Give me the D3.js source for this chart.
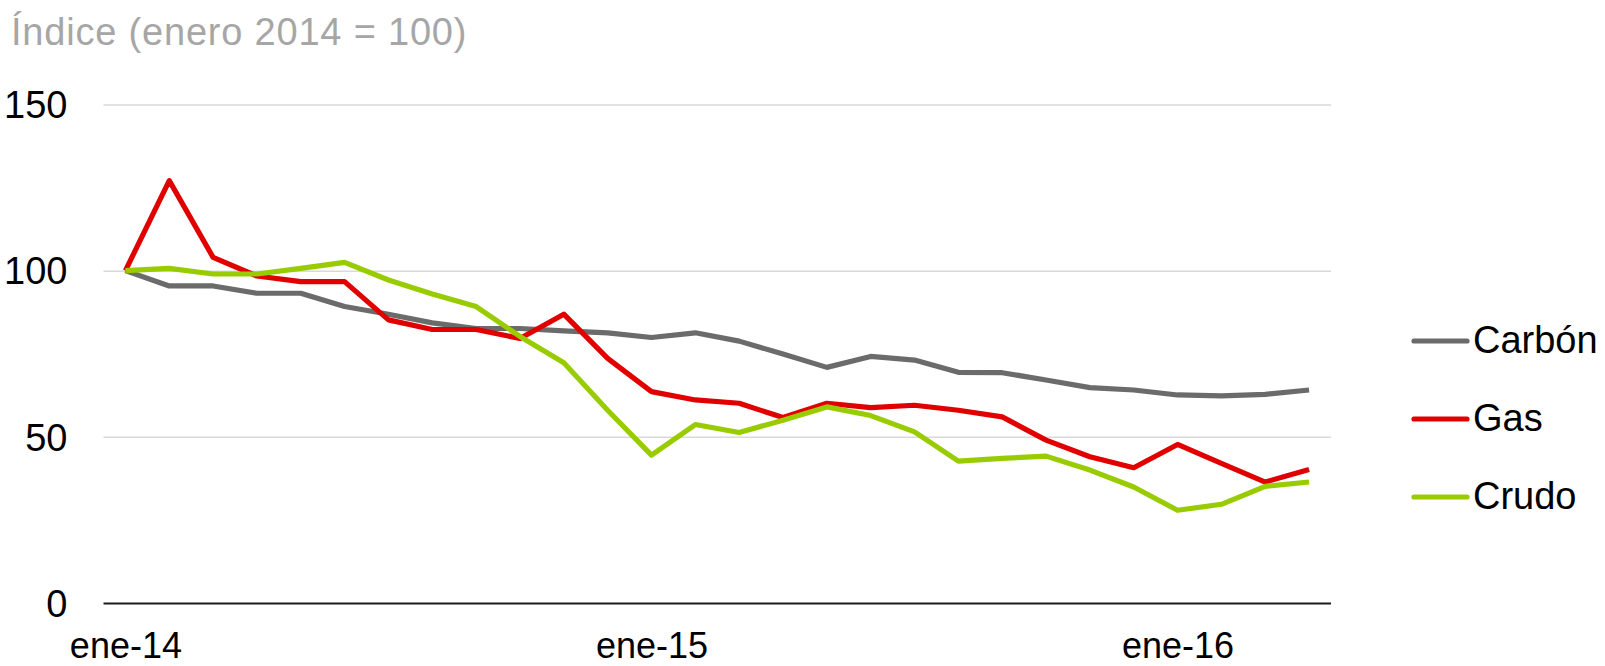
<!DOCTYPE html>
<html>
<head>
<meta charset="utf-8">
<script src="https://cdn.jsdelivr.net/npm/d3@7"></script>
<style>
  html, body { margin: 0; padding: 0; background: #fff; }
  svg { display: block; font-family: "Liberation Sans", Arial, sans-serif; }
</style>
</head>
<body>
<svg id="chart" width="1605" height="666"></svg>
<script>
// meses ene-14 .. abr-16
const months = ["ene-14","feb-14","mar-14","abr-14","may-14","jun-14","jul-14","ago-14","sep-14","oct-14","nov-14","dic-14",
                "ene-15","feb-15","mar-15","abr-15","may-15","jun-15","jul-15","ago-15","sep-15","oct-15","nov-15","dic-15",
                "ene-16","feb-16","mar-16","abr-16"];
const tickLabels = ["ene-14", "ene-15", "ene-16"];
const yTicks = [0, 50, 100, 150];

const carbon = [100, 95.4, 95.4, 93.2, 93.2, 89.2, 86.9, 84.3, 82.6, 82.6, 81.9, 81.3, 79.9, 81.3, 78.8, 74.9, 70.9, 74.2, 73.1, 69.4, 69.3, 67.1, 64.8, 64.1, 62.6, 62.3, 62.8, 64.1];
const gas    = [100, 127.1, 104.0, 98.4, 96.7, 96.7, 85.2, 82.3, 82.3, 79.6, 86.9, 73.6, 63.6, 61.1, 60.1, 55.8, 60.1, 58.8, 59.5, 58.0, 56.0, 49.0, 44.0, 40.7, 47.7, 42.0, 36.4, 40.2];
const crudo  = [100, 100.7, 99.0, 99.0, 100.7, 102.5, 97.2, 93.0, 89.2, 80.2, 72.3, 58.0, 44.5, 53.7, 51.3, 55.0, 59.0, 56.4, 51.5, 42.7, 43.5, 44.2, 40.0, 34.9, 27.9, 29.7, 35.1, 36.4];

const seriesNames = ["Carbón", "Gas", "Crudo"];
const seriesColors = ["#6b6b6b", "#e00000", "#99cc00"];
const series = [carbon, gas, crudo];

const svg = d3.select("#chart");
const plotLeft = 103.5, plotRight = 1331, plotTop = 104.5, plotBottom = 603;

const x = d3.scalePoint().domain(months).range([plotLeft, plotRight]).padding(0.5);
const y = d3.scaleLinear().domain([0, 150]).range([plotBottom, plotTop]);

// title
svg.append("text")
  .attr("x", 11).attr("y", 45)
  .attr("fill", "#a6a6a6")
  .style("font-size", "38px")
  .style("letter-spacing", "0.8px")
  .text("Índice (enero 2014 = 100)");

// gridlines + y labels
const yAxis = svg.append("g")
  .attr("transform", `translate(${plotLeft},0)`)
  .call(d3.axisLeft(y).tickValues(yTicks).tickSize(-(plotRight - plotLeft)).tickPadding(36));
yAxis.select(".domain").remove();
yAxis.selectAll(".tick line")
  .attr("stroke", d => d === 0 ? "#1a1a1a" : "#d9d9d9")
  .attr("stroke-width", d => d === 0 ? 2 : 1.5);
yAxis.selectAll(".tick text")
  .attr("fill", "#000")
  .style("font-size", "38px")
  .style("font-family", "Liberation Sans, Arial, sans-serif")
  .attr("dy", "0.35em");

// x labels
const xAxis = svg.append("g")
  .attr("transform", `translate(0,${plotBottom})`)
  .call(d3.axisBottom(x).tickValues(tickLabels).tickSize(0).tickPadding(29));
xAxis.select(".domain").remove();
xAxis.selectAll(".tick text")
  .attr("fill", "#000")
  .style("font-size", "36px")
  .style("font-family", "Liberation Sans, Arial, sans-serif");

// lines
const line = d3.line().x((d, i) => x(months[i])).y(d => y(d));
series.forEach((s, k) => {
  svg.append("path")
    .datum(s)
    .attr("fill", "none")
    .attr("stroke", seriesColors[k])
    .attr("stroke-width", 5.2)
    .attr("stroke-linejoin", "round")
    .attr("d", line);
});

// legend
const legend = svg.append("g");
seriesNames.forEach((name, k) => {
  const ly = 341 + k * 78;
  legend.append("line")
    .attr("x1", 1414).attr("x2", 1467)
    .attr("y1", ly).attr("y2", ly)
    .attr("stroke", seriesColors[k])
    .attr("stroke-width", 5.2)
    .attr("stroke-linecap", "round");
  legend.append("text")
    .attr("x", 1473).attr("y", ly + 12)
    .attr("fill", "#000")
    .style("font-size", "38px")
    .text(name);
});
</script>
</body>
</html>
